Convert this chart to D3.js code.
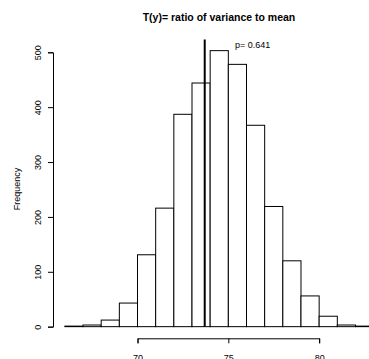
<!DOCTYPE html>
<html>
<head>
<meta charset="utf-8">
<script src="https://cdn.jsdelivr.net/npm/d3@7"></script>
<style>
body { margin: 0; background: #fff; }
svg { font-family: "Liberation Sans", Arial, sans-serif; }
</style>
</head>
<body>
<svg id="graph"></svg>
<script>
// histogram of replicated T(y), bin breaks and counts
var breaks = [66, 67, 68, 69, 70, 71, 72, 73, 74, 75, 76, 77, 78, 79, 80, 81, 82, 83];
var counts = [1, 3, 12, 43, 131, 216, 387, 444, 503, 478, 367, 219, 120, 56, 19, 3, 1];
var xTicks = [70, 75, 80];
var yTicks = [0, 100, 200, 300, 400, 500];
var observed = 73.7;
var pValue = "p= 0.641";
var title = "T(y)= ratio of variance to mean";

var width = 369, height = 359;

var bins = counts.map(function (c, i) {
    return {x0: breaks[i], x1: breaks[i + 1], value: c};
});

var x = d3.scaleLinear()
    .domain([65.32, 83.68])
    .range([52.5, 386]);
var y = d3.scaleLinear()
    .domain([-20.12, 523.12])
    .range([337.7, 39.6]);

var svg = d3.select("#graph")
    .attr("width", width)
    .attr("height", height);

svg.append("text")
    .attr("x", 219)
    .attr("y", 21)
    .attr("text-anchor", "middle")
    .attr("font-size", "10.5px")
    .attr("font-weight", "bold")
    .text(title);

svg.selectAll("rect.bar")
    .data(bins)
    .enter().append("rect")
    .attr("class", "bar")
    .attr("x", function (d) { return x(d.x0); })
    .attr("width", function (d) { return x(d.x1) - x(d.x0); })
    .attr("y", function (d) { return y(d.value); })
    .attr("height", function (d) { return y(0) - y(d.value); })
    .attr("fill", "#fff")
    .attr("stroke", "#000")
    .attr("stroke-width", 1);

// observed statistic
svg.append("line")
    .attr("x1", x(observed))
    .attr("x2", x(observed))
    .attr("y1", y(0))
    .attr("y2", y.range()[1])
    .attr("stroke", "#000")
    .attr("stroke-width", 2);

svg.append("text")
    .attr("x", 235)
    .attr("y", 48)
    .attr("font-size", "9px")
    .text(pValue);

// x axis only spans the tick range, like R
var xAxisScale = x.copy().domain([70, 80]).range([x(70), x(80)]);
var gx = svg.append("g")
    .attr("transform", "translate(0,338.3)")
    .call(d3.axisBottom(xAxisScale).tickValues(xTicks).tickSize(5).tickFormat(d3.format("d")));
gx.selectAll("text")
    .attr("y", 16)
    .attr("font-size", "9px")
    .attr("fill", "#000");

var yAxisScale = y.copy().domain([0, 500]).range([y(0), y(500)]);
var gy = svg.append("g")
    .attr("transform", "translate(53,0)")
    .call(d3.axisLeft(yAxisScale).tickValues(yTicks).tickSize(5).tickFormat(d3.format("d")));
gy.selectAll("text")
    .attr("x", null)
    .attr("dy", null)
    .attr("text-anchor", "middle")
    .attr("transform", "translate(-12,0) rotate(-90)")
    .attr("font-size", "9px")
    .attr("fill", "#000");

svg.selectAll(".domain, .tick line")
    .attr("stroke", "#000");
svg.selectAll(".tick text").attr("font-family", "Liberation Sans, Arial, sans-serif");

svg.append("text")
    .attr("transform", "translate(19.5,189) rotate(-90)")
    .attr("text-anchor", "middle")
    .attr("font-size", "9px")
    .text("Frequency");
</script>
</body>
</html>
